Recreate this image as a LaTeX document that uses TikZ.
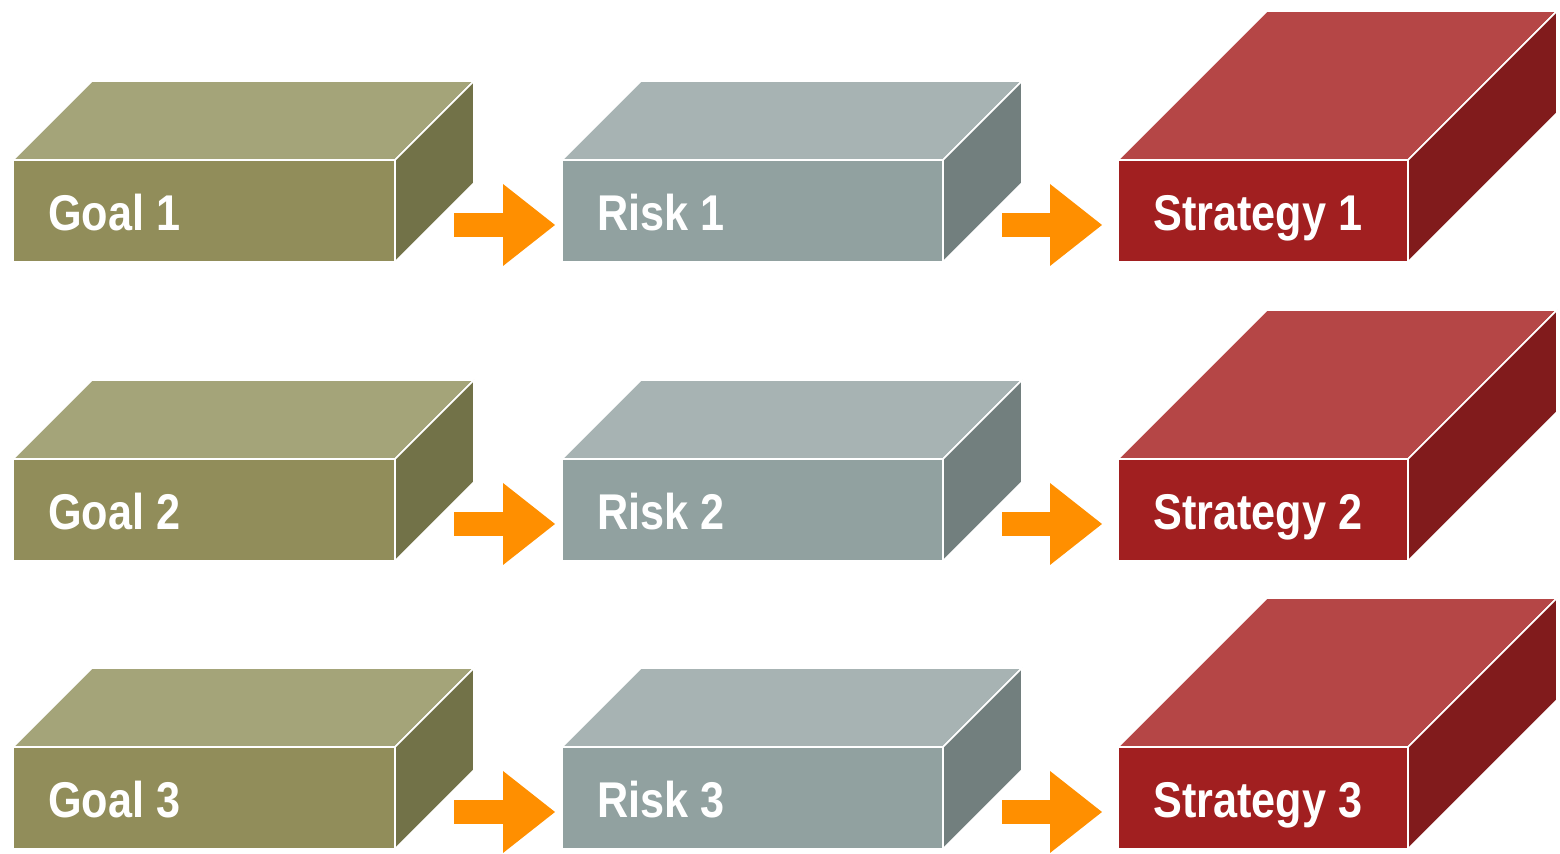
\documentclass[tikz,border=0pt]{standalone}
\usepackage{fontspec}
\newfontfamily\boxfont[FakeStretch=0.86]{Liberation Sans}
\usetikzlibrary{arrows.meta}
\definecolor{goalF}{HTML}{918D5A}
\definecolor{goalT}{HTML}{A4A479}
\definecolor{goalS}{HTML}{727248}
\definecolor{riskF}{HTML}{91A1A0}
\definecolor{riskT}{HTML}{A7B3B3}
\definecolor{riskS}{HTML}{727F7E}
\definecolor{stratF}{HTML}{A11F20}
\definecolor{stratT}{HTML}{B54646}
\definecolor{stratS}{HTML}{811B1C}
\definecolor{flowC}{HTML}{FF8F00}
\tikzset{
  front/.style={draw=white, line width=0.9pt, inner sep=0pt, outer sep=0pt, anchor=north west},
  facet/.style={draw=white, line width=0.9pt, line join=round},
  lbl/.style={text=white, anchor=base west, inner sep=0pt, font=\boxfont\bfseries\fontsize{28.6pt}{30pt}\selectfont},
  flow/.style={draw=flowC, line width=0.48cm, -{Triangle[length=1.04cm, width=1.64cm, line width=0pt]}},
}
% #1 name, #2 x, #3 y (top of front), #4 width px, #5 depth px, #6 colour prefix, #7 text
\newcommand{\drawcuboid}[7]{%
  \node[front, fill=#6F, minimum width=#4*0.02cm, minimum height=2.04cm] (#1) at (#2,#3) {};
  \fill[facet, fill=#6T] (#1.north west) -- ++(#5,-#5) -- ([shift={(#5,-#5)}]#1.north east) -- (#1.north east) -- cycle;
  \fill[facet, fill=#6S] (#1.north east) -- ++(#5,-#5) -- ([shift={(#5,-#5)}]#1.south east) -- (#1.south east) -- cycle;
  \draw[facet] (#1.north west) rectangle (#1.south east);
  \node[lbl] (#1t) at ([shift={(35,-31)}]#1.south west) {#7};
}
\begin{document}
\begin{tikzpicture}[x=0.02cm, y=-0.02cm]
\useasboundingbox (0,0) rectangle (1560,854);
\drawcuboid{g1}{13}{160}{382}{79}{goal}{Goal 1}
\drawcuboid{r1}{562}{160}{381}{79}{risk}{Risk 1}
\drawcuboid{s1}{1118}{160}{290}{149}{strat}{Strategy 1}
\drawcuboid{g2}{13}{459}{382}{79}{goal}{Goal 2}
\drawcuboid{r2}{562}{459}{381}{79}{risk}{Risk 2}
\drawcuboid{s2}{1118}{459}{290}{149}{strat}{Strategy 2}
\drawcuboid{g3}{13}{747}{382}{79}{goal}{Goal 3}
\drawcuboid{r3}{562}{747}{381}{79}{risk}{Risk 3}
\drawcuboid{s3}{1118}{747}{290}{149}{strat}{Strategy 3}
\foreach \a/\b in {g1/r1,g2/r2,g3/r3}
  \draw[flow] ([shift={(59,14)}]\a.east) -- ([shift={(-7,14)}]\b.west);
\foreach \a/\b in {r1/s1,r2/s2,r3/s3}
  \draw[flow] ([shift={(59,14)}]\a.east) -- ([shift={(-16,14)}]\b.west);
\end{tikzpicture}
\end{document}
